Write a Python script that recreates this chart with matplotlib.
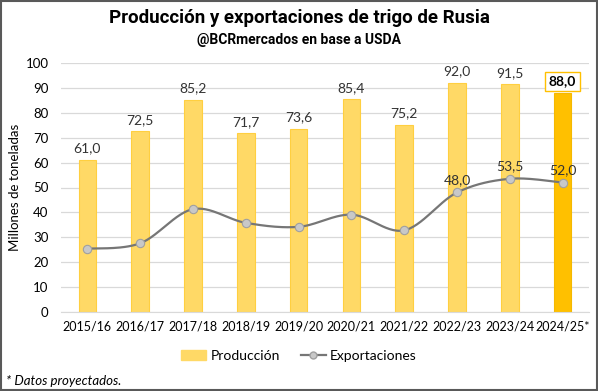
import matplotlib.pyplot as plt
import matplotlib.patches as mpatches
from matplotlib.lines import Line2D
import numpy as np

campanias = ['2015/16', '2016/17', '2017/18', '2018/19', '2019/20',
             '2020/21', '2021/22', '2022/23', '2023/24', '2024/25*']
produccion = [61.0, 72.5, 85.2, 71.7, 73.6, 85.4, 75.2, 92.0, 91.5, 88.0]
exportaciones = [25.4, 27.6, 41.3, 35.8, 34.2, 39.1, 32.8, 48.0, 53.5, 52.0]
etiquetas_expo = {7: '48,0', 8: '53,5', 9: '52,0'}


def suavizar(x, y, n=30, t=0.5):
    # curva tipo Excel (cardinal spline) entre puntos
    x = np.asarray(x, float)
    y = np.asarray(y, float)
    xs, ys = [], []
    for i in range(len(x) - 1):
        p0 = (x[max(i - 1, 0)], y[max(i - 1, 0)])
        p1 = (x[i], y[i])
        p2 = (x[i + 1], y[i + 1])
        p3 = (x[min(i + 2, len(x) - 1)], y[min(i + 2, len(x) - 1)])
        m1 = ((p2[0] - p0[0]) * t, (p2[1] - p0[1]) * t)
        m2 = ((p3[0] - p1[0]) * t, (p3[1] - p1[1]) * t)
        s = np.linspace(0, 1, n)
        h1 = 2 * s**3 - 3 * s**2 + 1
        h2 = -2 * s**3 + 3 * s**2
        h3 = s**3 - 2 * s**2 + s
        h4 = s**3 - s**2
        xs.extend(h1 * p1[0] + h2 * p2[0] + h3 * m1[0] + h4 * m2[0])
        ys.extend(h1 * p1[1] + h2 * p2[1] + h3 * m1[1] + h4 * m2[1])
    return np.array(xs), np.array(ys)


plt.rcParams['font.family'] = ['Lato', 'DejaVu Sans']

fig = plt.figure(figsize=(5.98, 3.91), dpi=100)
ax = fig.add_axes([61 / 598, 1 - 312 / 391, 528 / 598, 249 / 391])

x = np.arange(len(campanias))
colores = ['#FFD966'] * (len(campanias) - 1) + ['#FFC000']
bordes = ['#FFCF40'] * (len(campanias) - 1) + ['#F5B800']
ax.bar(x, produccion, width=0.33, color=colores, edgecolor=bordes, linewidth=0.8, zorder=2)

for i, v in enumerate(produccion):
    txt = f'{v:.1f}'.replace('.', ',')
    if i == len(produccion) - 1:
        ax.text(i, v + 2.2, txt, ha='center', va='bottom', fontsize=10, fontweight='bold',
                color='black', zorder=5,
                bbox=dict(boxstyle='square,pad=0.25', fc='white', ec='#FFC000', lw=1))
    else:
        ax.text(i, v + 2.2, txt, ha='center', va='bottom', fontsize=10, color='#333333', zorder=5)

xs, ys = suavizar(x, exportaciones)
ax.plot(xs, ys, color='#767676', lw=1.6, zorder=3)
ax.plot(x, exportaciones, 'o', ms=6, mfc='#C8C8C8', mec='#A0A0A0', mew=0.8, zorder=4)
for i, t in etiquetas_expo.items():
    ax.text(i, exportaciones[i] + 2.5, t, ha='center', va='bottom', fontsize=10,
            color='#333333', zorder=5)

ax.set_xlim(-0.5, len(campanias) - 0.5)
ax.set_ylim(0, 100)
ax.set_yticks(range(0, 101, 10))
ax.set_xticks(x)
ax.set_xticklabels(campanias, fontsize=9, color='black')
ax.tick_params(axis='y', labelsize=9.5, length=0, pad=9, colors='black')
ax.tick_params(axis='x', length=0, pad=6)
ax.yaxis.grid(True, color='#D9D9D9', lw=0.9, zorder=0)
ax.set_axisbelow(True)
for s in ax.spines.values():
    s.set_visible(False)
ax.spines['bottom'].set_visible(True)
ax.spines['bottom'].set_color('#D9D9D9')
ax.set_ylabel('Millones de toneladas', fontsize=9.5, labelpad=3)

fig.text(0.5, 1 - 18 / 391, 'Producción y exportaciones de trigo de Rusia',
         ha='center', va='center', fontsize=13.5, fontweight='bold',
         family=['Roboto', 'DejaVu Sans'])
fig.text(0.5, 1 - 40 / 391, '@BCRmercados en base a USDA', ha='center', va='center',
         fontsize=10, fontweight='bold', family=['Roboto', 'DejaVu Sans'])

handles = [mpatches.Patch(color='#FFD966', label='Producción'),
           Line2D([0], [0], color='#767676', lw=1.6, marker='o', ms=5,
                  mfc='#C8C8C8', mec='#A0A0A0', label='Exportaciones')]
fig.legend(handles=handles, loc='center', bbox_to_anchor=(0.5, 1 - 356 / 391), ncol=2,
           frameon=False, fontsize=10, handlelength=1.8, handletextpad=0.3, columnspacing=1.5)

fig.text(6 / 598, 1 - 381 / 391, '* Datos proyectados.', ha='left', va='center',
         fontsize=9.5, style='italic')

fig.patches.append(mpatches.Rectangle((0.002, 0.003), 0.996, 0.994, transform=fig.transFigure,
                                      fill=False, ec='#595959', lw=1.5))

fig.savefig('out.png', dpi=100)
